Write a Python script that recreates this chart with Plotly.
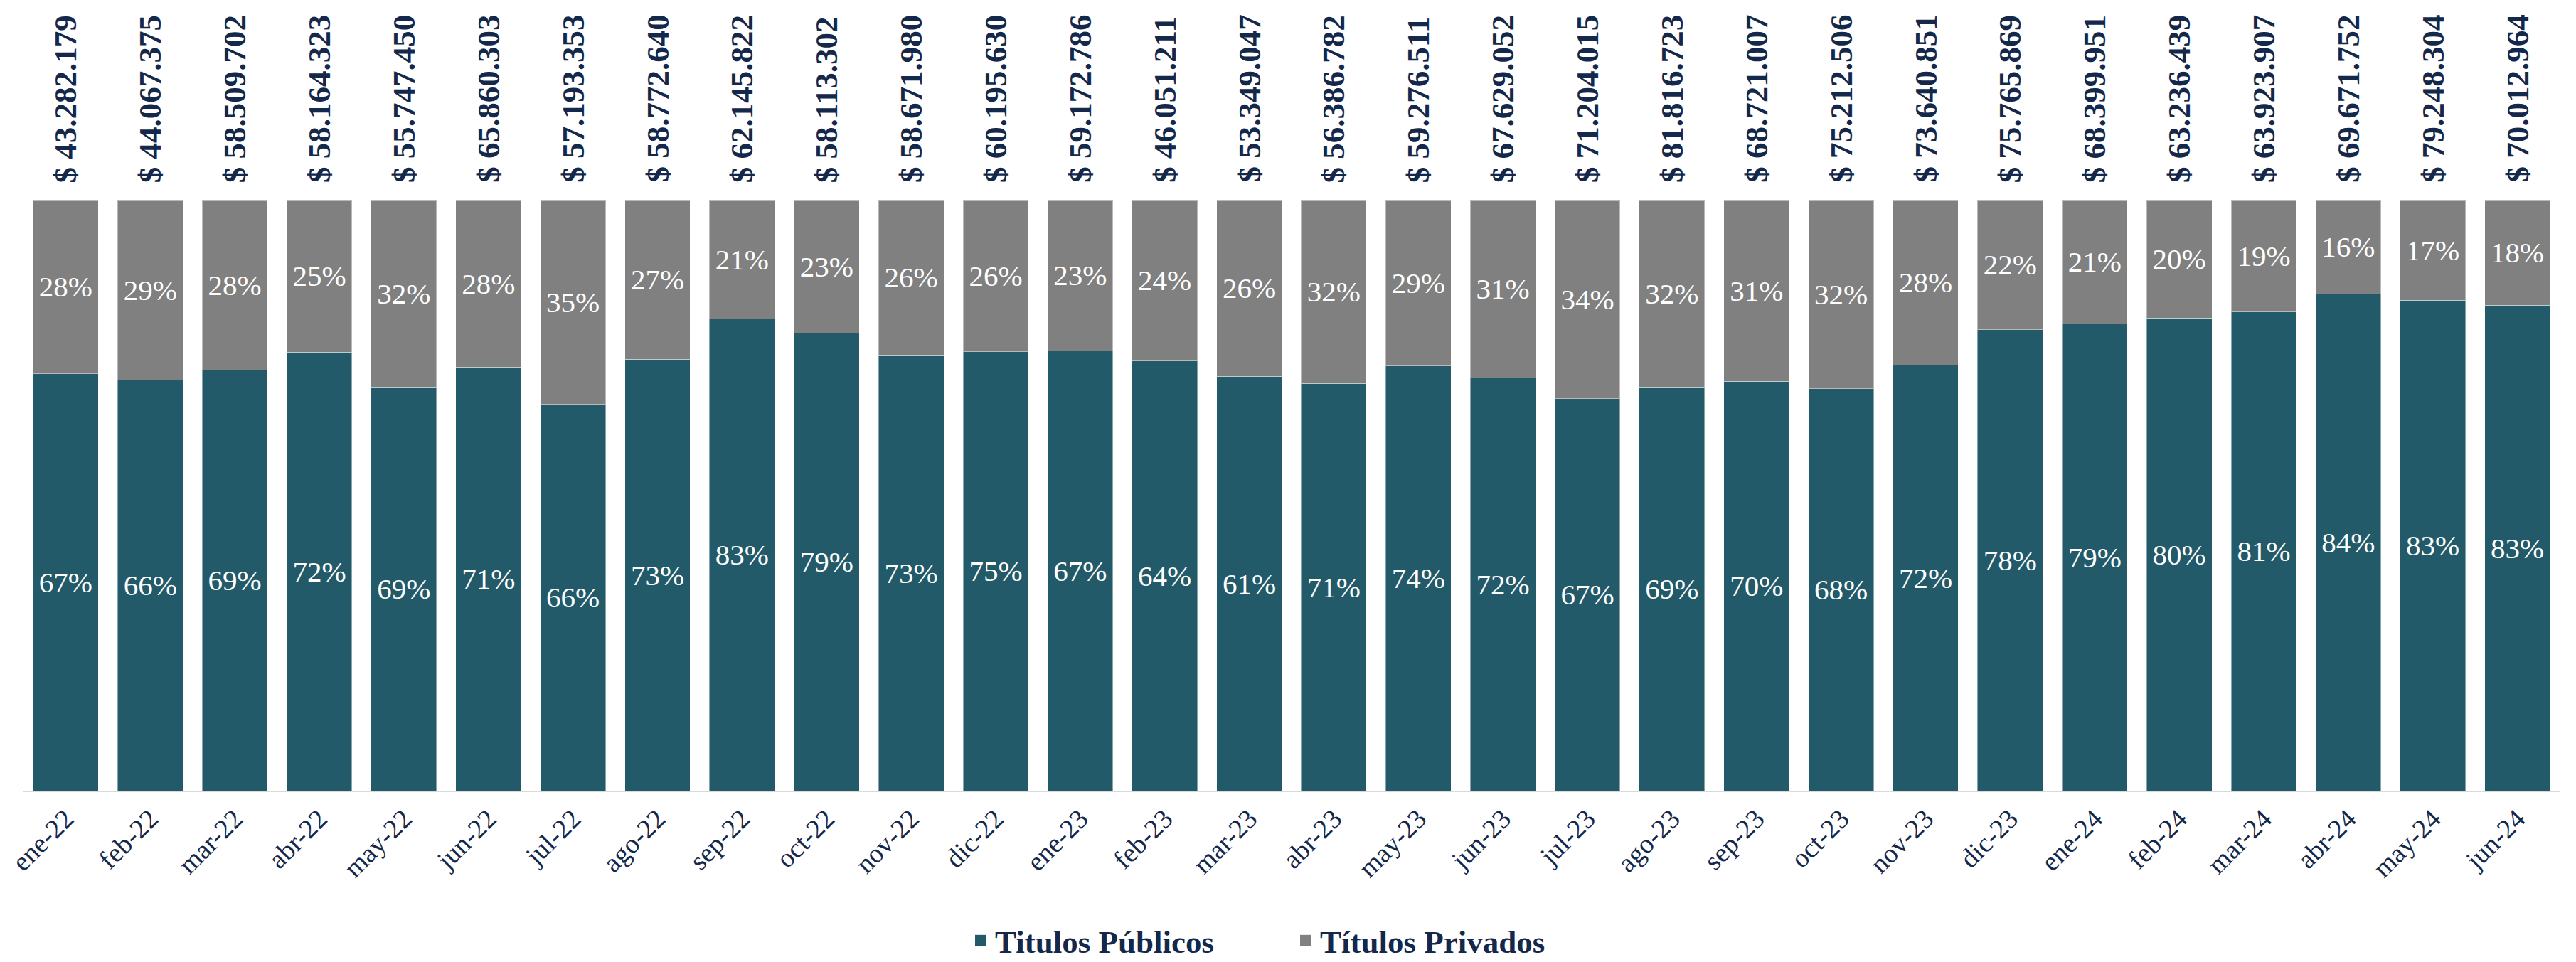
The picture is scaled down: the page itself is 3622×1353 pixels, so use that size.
import plotly.graph_objects as go

meses = ["ene-22", "feb-22", "mar-22", "abr-22", "may-22", "jun-22", "jul-22", "ago-22", "sep-22", "oct-22",
         "nov-22", "dic-22", "ene-23", "feb-23", "mar-23", "abr-23", "may-23", "jun-23", "jul-23", "ago-23",
         "sep-23", "oct-23", "nov-23", "dic-23", "ene-24", "feb-24", "mar-24", "abr-24", "may-24", "jun-24"]

titulos_publicos = [67, 66, 69, 72, 69, 71, 66, 73, 83, 79, 73, 75, 67, 64, 61, 71, 74, 72, 67, 69,
                    70, 68, 72, 78, 79, 80, 81, 84, 83, 83]

titulos_privados = [28, 29, 28, 25, 32, 28, 35, 27, 21, 23, 26, 26, 23, 24, 26, 32, 29, 31, 34, 32,
                    31, 32, 28, 22, 21, 20, 19, 16, 17, 18]

totales = ["$ 43.282.179", "$ 44.067.375", "$ 58.509.702", "$ 58.164.323", "$ 55.747.450", "$ 65.860.303",
           "$ 57.193.353", "$ 58.772.640", "$ 62.145.822", "$ 58.113.302", "$ 58.671.980", "$ 60.195.630",
           "$ 59.172.786", "$ 46.051.211", "$ 53.349.047", "$ 56.386.782", "$ 59.276.511", "$ 67.629.052",
           "$ 71.204.015", "$ 81.816.723", "$ 68.721.007", "$ 75.212.506", "$ 73.640.851", "$ 75.765.869",
           "$ 68.399.951", "$ 63.236.439", "$ 63.923.907", "$ 69.671.752", "$ 79.248.304", "$ 70.012.964"]

TEAL = "#235A69"
GRAY = "#808080"
NAVY = "#13284A"
SERIF = "Liberation Serif"

fig = go.Figure()
fig.add_trace(go.Bar(
    x=meses, y=titulos_publicos, name="Titulos Públicos",
    marker=dict(color=TEAL, line=dict(color="rgba(255,255,255,0.45)", width=1)),
    text=[f"{v}%" for v in titulos_publicos], textposition="inside", insidetextanchor="middle",
    textangle=0, textfont=dict(family=SERIF, size=41, color="white"),
    showlegend=False, hoverinfo="skip",
))
fig.add_trace(go.Bar(
    x=meses, y=titulos_privados, name="Títulos Privados",
    marker=dict(color=GRAY, line=dict(color="rgba(255,255,255,0.45)", width=1)),
    text=[f"{v}%" for v in titulos_privados], textposition="inside", insidetextanchor="middle",
    textangle=0, textfont=dict(family=SERIF, size=41, color="white"),
    showlegend=False, hoverinfo="skip",
))
# legend entries with larger square symbols
for nombre, color in [("Titulos Públicos", TEAL), ("Títulos Privados", GRAY)]:
    fig.add_trace(go.Scatter(
        x=[None], y=[None], mode="markers", name=nombre,
        marker=dict(symbol="square", size=25, color=color), showlegend=True,
    ))

for m, t in zip(meses, totales):
    fig.add_annotation(
        x=m, y=100, xref="x", yref="y", text=f"<b>{t}</b>", showarrow=False,
        textangle=-90, yanchor="bottom", xanchor="center", yshift=22,
        font=dict(family=SERIF, size=45, color=NAVY),
    )

# the page body has an 8px margin, so the figure is sized/placed to compensate
fig.update_layout(
    barmode="stack", barnorm="percent", bargap=0.227,
    width=3614, height=1345,
    margin=dict(l=25, r=23, t=273, b=241, pad=0, autoexpand=False),
    paper_bgcolor="white", plot_bgcolor="white",
    legend=dict(
        orientation="h", x=0.5, xanchor="center", y=-0.254, yanchor="middle",
        font=dict(family=SERIF, size=45, color=NAVY, weight="bold"),
        entrywidth=412, itemsizing="trace", traceorder="normal",
    ),
    font=dict(family=SERIF, color=NAVY),
)
fig.update_xaxes(
    type="category", tickangle=-45, showline=True, linecolor="#D9D9D9", linewidth=2,
    showgrid=False, ticks="", automargin=False,
    tickfont=dict(family=SERIF, size=38, color=NAVY),
)
fig.update_yaxes(range=[0, 100], visible=False, showgrid=False, zeroline=False, automargin=False)

fig.write_html("out.html")
